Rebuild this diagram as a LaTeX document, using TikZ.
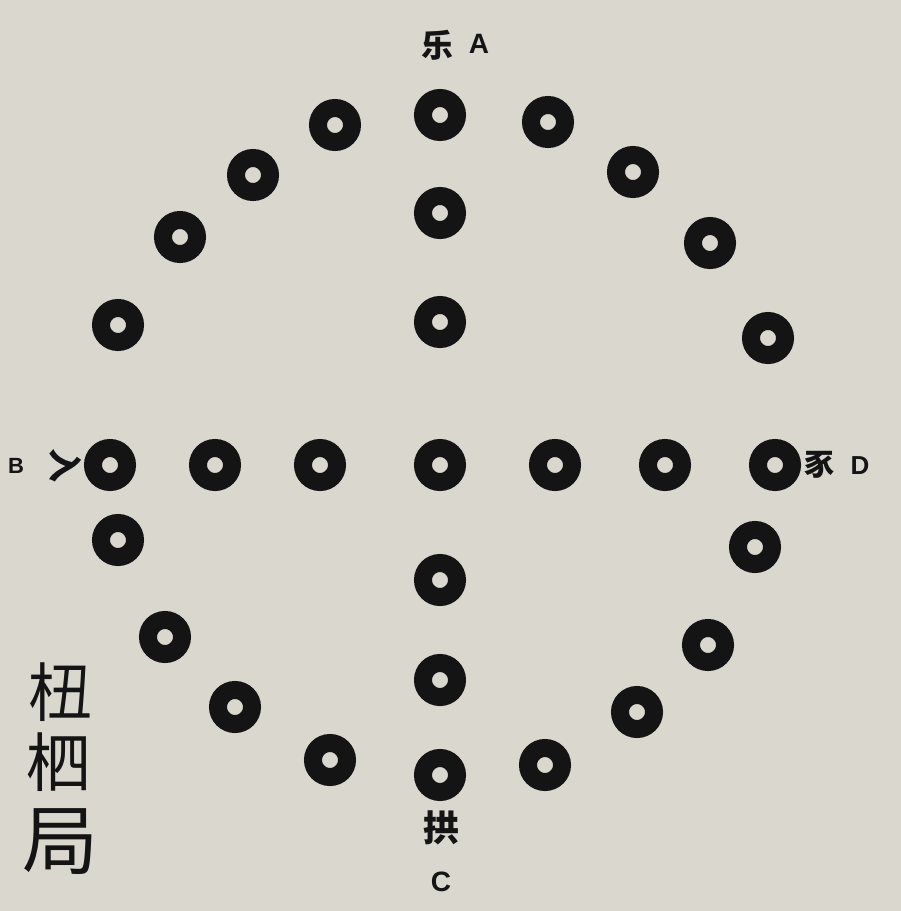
\documentclass[tikz,border=0pt]{standalone}
\usepackage{fontspec}
\setsansfont{Liberation Sans}
\newfontfamily\cjk{Noto Sans CJK SC}
\usepackage{tikz}
\usetikzlibrary{positioning}
\definecolor{yutPaper}{HTML}{D9D7CE}
\definecolor{yutInk}{HTML}{141414}
\tikzset{
  yutring/.style={circle,draw=yutInk,line width=18pt,minimum size=34pt,inner sep=0pt},
  yutlbl/.style={font=\sffamily\bfseries,text=yutInk,inner sep=0pt},
  yutchar/.style={font=\cjk\bfseries,text=yutInk,inner sep=0pt},
}

\begin{document}
\begin{tikzpicture}[x=1pt,y=-1pt]
  \fill[yutPaper] (0,0) rectangle (901,911);
  \useasboundingbox (0,0) rectangle (901,911);

  % Outer ring of stations, clockwise from the top.
  \foreach \nm/\px/\py in {o1/440/115, o2/548/122, o3/633/172, o4/710/243, o5/768/338,
      o6/775/465, o7/755/547, o8/708/645, o9/637/712, o10/545/765,
      o11/440/775, o12/330/760, o13/235/707, o14/165/637, o15/118/540,
      o16/110/465, o17/118/325, o18/180/237, o19/253/175, o20/335/125}
    \node[yutring] (\nm) at (\px,\py) {};

  % The cross through the middle.
  \foreach \nm/\py in {v1/213, v2/322, mid/465, v4/580, v5/680}
    \node[yutring] (\nm) at (440,\py) {};
  \foreach \nm/\px in {h1/215, h2/320, h4/555, h5/665}
    \node[yutring] (\nm) at (\px,465) {};

  % Labels at the four ends.
  \node[yutchar,font=\cjk\bfseries\fontsize{32}{32}\selectfont] (topch) at (437,45) {乐};
  \node[yutlbl,font=\sffamily\bfseries\fontsize{28}{28}\selectfont] (lblA) at (479,44) {A};
  \node[yutlbl,font=\sffamily\bfseries\fontsize{22}{22}\selectfont] (lblB) at (16,466) {B};
  \node[yutchar,font=\cjk\bfseries\fontsize{34}{34}\selectfont,rotate=-90] (leftch) at (66,465) {入};
  \node[yutchar,font=\cjk\bfseries\fontsize{30}{30}\selectfont] (rightch) at (819,465) {豕};
  \node[yutlbl,font=\sffamily\bfseries\fontsize{26}{26}\selectfont] (lblD) at (860,466) {D};
  \node[yutchar,font=\cjk\bfseries\fontsize{36}{36}\selectfont] (botch) at (441,828) {拱};
  \node[yutlbl,font=\sffamily\bfseries\fontsize{28}{28}\selectfont] (lblC) at (441,882) {C};

  % Title down the left margin.
  \node[yutchar,font=\cjk\fontsize{64}{64}\selectfont] (title1) at (60,692) {杻};
  \node[yutchar,font=\cjk\fontsize{64}{64}\selectfont] (title2) at (58,762) {柶};
  \node[yutchar,font=\cjk\fontsize{76}{76}\selectfont] (title3) at (60,842) {局};
\end{tikzpicture}
\end{document}
